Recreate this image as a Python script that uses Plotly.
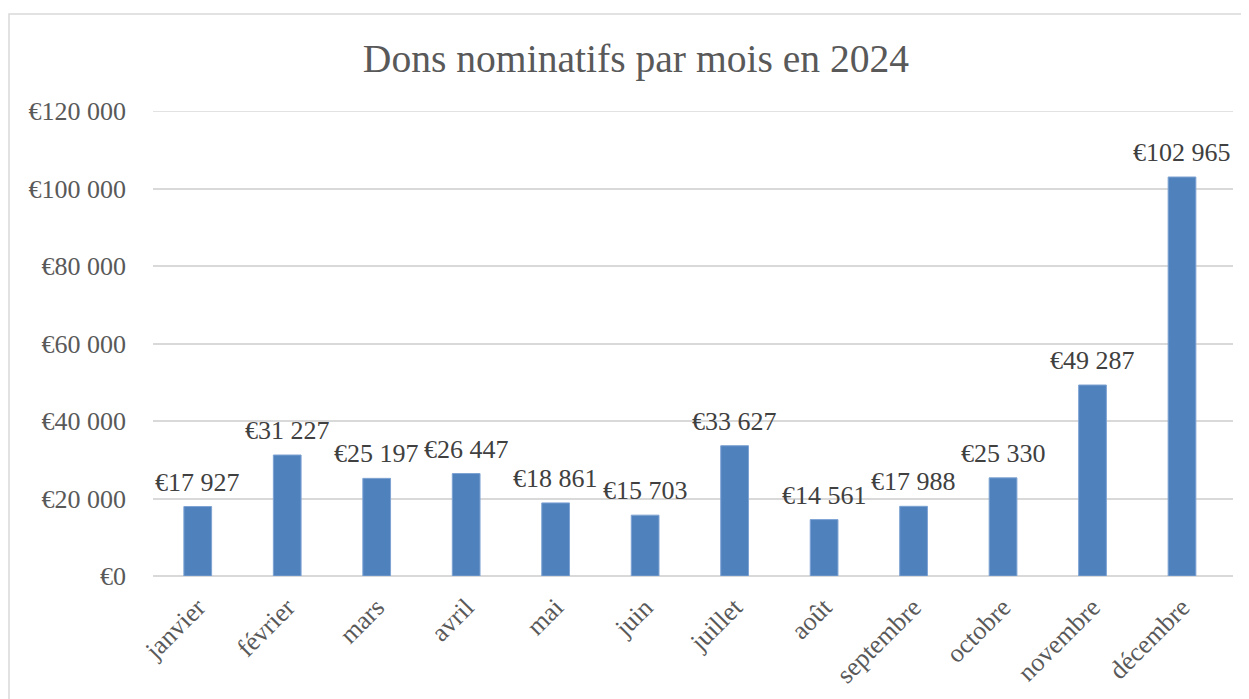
import plotly.graph_objects as go

months = ["janvier", "février", "mars", "avril", "mai", "juin", "juillet", "août",
          "septembre", "octobre", "novembre", "décembre"]
dons = [17927, 31227, 25197, 26447, 18861, 15703, 33627, 14561, 17988, 25330, 49287, 102965]
tick_vals = [0, 20000, 40000, 60000, 80000, 100000, 120000]
tick_text = ["€0", "€20 000", "€40 000", "€60 000", "€80 000", "€100 000", "€120 000"]
title_text = "Dons nominatifs par mois en 2024"


def fmt(v):
    return "€" + f"{v:,}".replace(",", " ")


FONT = "Liberation Serif"
OFF = 8  # page body margin

fig = go.Figure(go.Bar(
    x=months, y=dons,
    marker=dict(color="#4F81BD", line=dict(color="#7EA3D3", width=1)),
    width=0.31,
    hoverinfo="x+y",
))

for m, v in zip(months, dons):
    fig.add_annotation(x=m, y=v, xref="x", yref="y", text=fmt(v), showarrow=False,
                       yanchor="bottom", xanchor="center", yshift=8,
                       font=dict(family=FONT, size=26, color="#404040"))

W, H = 1249 - OFF, 699 - OFF
L, R, T, B = 153 - OFF, 16, 111 - OFF, 123
pw, ph = W - L - R, H - T - B

fig.update_layout(
    width=W, height=H,
    margin=dict(l=L, r=R, t=T, b=B, autoexpand=False),
    paper_bgcolor="white", plot_bgcolor="white",
    showlegend=False,
    title=dict(text=title_text, x=(636 - OFF) / W, xanchor="center", y=1 - (58 - OFF) / H,
               yanchor="middle", yref="container",
               font=dict(family=FONT, size=39.6, color="#595959")),
    xaxis=dict(tickangle=-45, tickfont=dict(family=FONT, size=26, color="#595959"),
               showgrid=False, showline=False, ticks="", ticklabelstandoff=10,
               automargin=False),
    yaxis=dict(range=[0, 120000], tickvals=tick_vals, ticktext=tick_text,
               tickfont=dict(family=FONT, size=26, color="#595959"),
               gridcolor="#D9D9D9", gridwidth=1.5, zeroline=True, zerolinecolor="#D9D9D9",
               zerolinewidth=1.5, showline=False, ticks="", ticklen=0, ticklabelstandoff=26,
               automargin=False),
    shapes=[
        dict(type="rect", xref="paper", yref="paper",
             x0=(9 - OFF - L) / pw, x1=(W + 5 - L) / pw,
             y0=(H - B - (H + 5)) / ph, y1=(H - B - (14 - OFF)) / ph,
             line=dict(color="#D9D9D9", width=1.5), fillcolor="rgba(0,0,0,0)",
             layer="below"),
        dict(type="line", xref="paper", yref="y", x0=0, x1=1, y0=tick_vals[-1], y1=tick_vals[-1],
             line=dict(color="#D9D9D9", width=1.5), layer="below"),
    ],
)

fig.write_html("out.html")
